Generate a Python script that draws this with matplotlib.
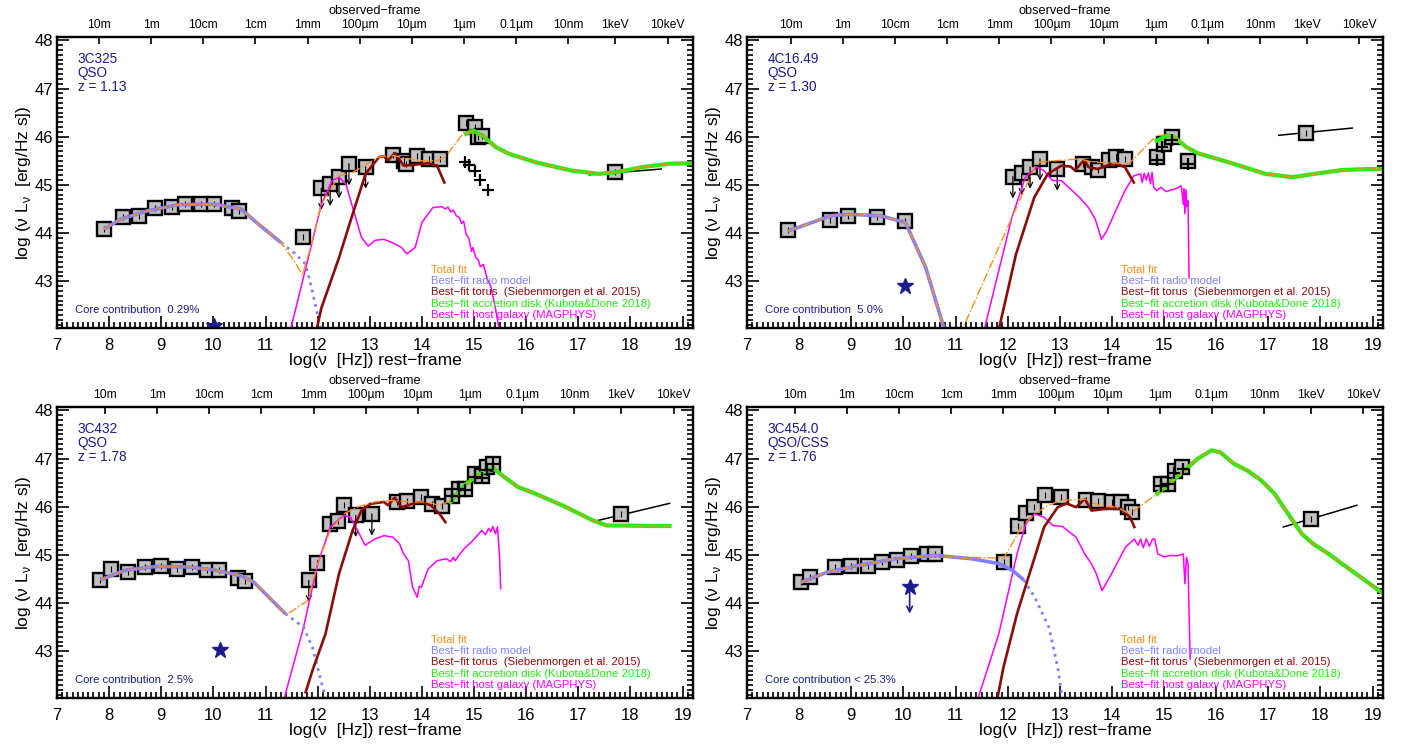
import numpy as np
import matplotlib.pyplot as plt
from matplotlib.ticker import MultipleLocator

plt.rcParams['font.family'] = ['Liberation Sans', 'DejaVu Sans']
plt.rcParams['mathtext.fontset'] = 'custom'
plt.rcParams['mathtext.rm'] = 'Liberation Sans'

C_LIGHT = 2.998e8      # m/s
KEV_HZ = 2.418e17      # Hz per keV

obs_labels = ['10m', '1m', '10cm', '1cm', '1mm', '100µm', '10µm', '1µm',
              '0.1µm', '10nm', '1keV', '10keV']
obs_lambda = [10, 1, 0.1, 0.01, 1e-3, 1e-4, 1e-5, 1e-6, 1e-7, 1e-8]
obs_kev = [1, 10]

legend_labels = ['Total fit', 'Best\u2212fit radio model',
                 'Best\u2212fit torus  (Siebenmorgen et al. 2015)',
                 'Best\u2212fit accretion disk (Kubota&Done 2018)',
                 'Best\u2212fit host galaxy (MAGPHYS)']
legend_y = [43.24, 43.01, 42.77, 42.53, 42.30]

C_TOTAL = '#ff8c1a'
C_RADIO = '#8080ff'
C_TORUS = '#8b0a0a'
C_DISK = '#22ee11'
C_HOST = '#ff00ff'
C_NAVY = '#1c1c8c'
legend_colors = [C_TOTAL, C_RADIO, C_TORUS, C_DISK, C_HOST]

# ---------------- 3C325 ----------------
a_info = ['3C325', 'QSO', 'z = 1.13']
a_z = 1.13
a_core = 'Core contribution  0.29%'
a_pts_x = [7.90, 8.26, 8.58, 8.88, 9.20, 9.46, 9.76, 10.01, 10.36, 10.50, 11.71,
           13.44, 13.65, 13.70, 13.91, 14.13, 14.34, 14.85, 15.01, 15.07, 15.16]
a_pts_y = [44.08, 44.34, 44.36, 44.52, 44.55, 44.60, 44.60, 44.60, 44.52, 44.46, 43.91,
           45.63, 45.50, 45.43, 45.60, 45.53, 45.53, 46.28, 46.20, 45.99, 46.01]
a_ul_x = [12.07, 12.24, 12.41, 12.60, 12.92]
a_ul_y = [44.93, 45.01, 45.17, 45.44, 45.37]
a_cross_x = [14.83, 14.91, 15.01, 15.12, 15.26]
a_cross_y = [45.48, 45.41, 45.29, 45.10, 44.89]
a_xray = [17.70, 45.26]
a_xline_x = [17.21, 18.59]
a_xline_y = [45.21, 45.33]
a_star = [10.01, 42.07]
a_radio_x = [7.90, 8.22, 8.73, 9.33, 10.01, 10.53, 10.87, 11.30]
a_radio_y = [44.08, 44.29, 44.46, 44.59, 44.60, 44.50, 44.18, 43.80]
a_rdot_x = [11.30, 11.55, 11.77, 11.90, 12.07]
a_rdot_y = [43.80, 43.59, 43.35, 42.79, 41.95]
a_bridge_x = [11.55, 11.71, 11.90, 12.07, 12.41, 12.67, 13.18, 13.44, 13.95, 14.29,
              14.47, 14.81]
a_bridge_y = [43.42, 43.13, 43.84, 44.60, 45.19, 45.26, 45.58, 45.61, 45.50, 45.50,
              45.61, 46.10]
a_torus_x = [11.97, 12.07, 12.41, 12.67, 12.92, 13.18, 13.27, 13.35, 13.48, 13.65,
             13.87, 14.12, 14.29, 14.43]
a_torus_y = [41.95, 42.44, 43.49, 44.39, 45.23, 45.58, 45.59, 45.51, 45.66, 45.40,
             45.42, 45.45, 45.40, 45.05]
a_disk_x = [14.85, 14.98, 15.19, 15.41, 15.66, 16.18, 16.86, 17.38, 17.72, 18.23,
            18.75, 19.20]
a_disk_y = [46.06, 46.13, 46.00, 45.79, 45.65, 45.47, 45.30, 45.23, 45.26, 45.37,
            45.44, 45.45]
a_host_x = [11.47, 11.90, 12.07, 12.28, 12.41, 12.54, 12.71, 12.84, 12.97, 13.10,
            13.27, 13.44, 13.61, 13.71, 13.87, 14.00, 14.21, 14.38, 14.45, 14.50,
            14.55, 14.60, 14.66, 14.72, 14.76, 14.80, 14.85, 14.90, 14.95, 14.98,
            15.03, 15.08, 15.12, 15.18, 15.25, 15.32, 15.41, 15.49]
a_host_y = [41.95, 43.84, 44.60, 45.09, 45.16, 45.02, 44.39, 43.91, 43.73, 43.85,
            43.87, 43.80, 43.70, 43.57, 43.70, 44.22, 44.53, 44.55, 44.50, 44.54,
            44.44, 44.48, 44.36, 44.32, 44.20, 44.25, 43.97, 43.90, 43.62, 43.70,
            43.50, 43.45, 43.30, 43.35, 43.05, 42.90, 42.44, 41.95]

# ---------------- 4C16.49 ----------------
b_info = ['4C16.49', 'QSO', 'z = 1.30']
b_z = 1.30
b_core = 'Core contribution  5.0%'
b_pts_x = [7.78, 8.59, 8.94, 9.50, 10.04, 13.45, 13.62, 13.73, 13.94, 14.07, 14.25,
           14.86, 14.99, 15.16, 15.45]
b_pts_y = [44.06, 44.28, 44.36, 44.34, 44.25, 45.44, 45.37, 45.31, 45.52, 45.58, 45.54,
           45.58, 45.84, 45.99, 45.49]
b_ul_x = [12.10, 12.27, 12.43, 12.62, 12.95]
b_ul_y = [45.17, 45.24, 45.37, 45.54, 45.33]
b_cross_x = [14.86, 14.96, 15.16, 15.45]
b_cross_y = [45.52, 45.79, 45.94, 45.44]
b_xray = [17.72, 46.08]
b_xline_x = [17.20, 18.61]
b_xline_y = [46.03, 46.18]
b_star = [10.04, 42.91]
b_radio_x = [7.78, 8.61, 8.95, 9.56, 10.04, 10.43, 10.80]
b_radio_y = [44.04, 44.36, 44.39, 44.36, 44.22, 43.28, 41.95]
b_rdot_x = []
b_rdot_y = []
b_bridge_x = [11.11, 12.08, 12.56, 13.38, 13.64, 14.33, 14.64, 14.86, 15.05]
b_bridge_y = [41.95, 44.32, 45.47, 45.54, 45.47, 45.44, 45.79, 46.03, 46.03]
b_torus_x = [11.82, 12.16, 12.51, 12.77, 13.03, 13.21, 13.29, 13.47, 13.55, 13.73,
             13.90, 14.07, 14.25, 14.42]
b_torus_y = [41.95, 43.56, 44.74, 45.23, 45.40, 45.38, 45.30, 45.52, 45.37, 45.33,
             45.40, 45.44, 45.37, 45.05]
b_disk_x = [14.86, 15.07, 15.20, 15.42, 15.64, 16.33, 16.94, 17.46, 17.89, 18.42,
            18.94, 19.20]
b_disk_y = [45.92, 46.03, 45.99, 45.79, 45.66, 45.44, 45.23, 45.16, 45.23, 45.31,
            45.33, 45.33]
b_host_x = [11.54, 12.08, 12.34, 12.56, 12.69, 12.86, 13.03, 13.38, 13.55, 13.68,
            13.80, 13.90, 14.07, 14.25, 14.42, 14.55, 14.58, 14.62, 14.66, 14.70,
            14.74, 14.77, 14.80, 14.86, 14.94, 15.04, 15.12, 15.25, 15.33, 15.37,
            15.38, 15.40, 15.42, 15.44, 15.46, 15.48]
b_host_y = [41.95, 44.32, 45.16, 45.37, 45.30, 45.09, 45.09, 44.74, 44.53, 44.29,
            43.87, 44.04, 44.46, 44.88, 45.19, 45.23, 45.05, 45.24, 45.10, 45.25,
            45.02, 45.26, 44.95, 44.88, 44.95, 44.86, 44.89, 44.93, 44.98, 44.60,
            44.92, 44.40, 44.90, 44.55, 44.67, 43.07]

# ---------------- 3C432 ----------------
c_info = ['3C432', 'QSO', 'z = 1.78']
c_z = 1.78
c_core = 'Core contribution  2.5%'
c_pts_x = [7.83, 8.03, 8.37, 8.69, 9.00, 9.31, 9.59, 9.87, 10.10, 10.48, 10.61,
           11.99, 12.24, 12.39, 12.51, 13.52, 13.71, 13.99, 14.19, 14.38,
           14.57, 14.72, 14.83, 15.02, 15.15, 15.25, 15.36]
c_pts_y = [44.48, 44.71, 44.64, 44.75, 44.76, 44.71, 44.75, 44.69, 44.68, 44.52, 44.45,
           44.83, 45.65, 45.71, 46.03, 46.10, 46.12, 46.20, 46.06, 46.02,
           46.23, 46.37, 46.37, 46.67, 46.63, 46.82, 46.88]
c_ul_x = [11.83, 12.73, 13.04]
c_ul_y = [44.47, 45.82, 45.85]
c_cross_x = [14.57, 14.72, 14.83, 15.02, 15.15, 15.25, 15.36]
c_cross_y = [46.23, 46.37, 46.35, 46.62, 46.60, 46.77, 46.88]
c_xray = [17.82, 45.84]
c_xline_x = [17.32, 18.75]
c_xline_y = [45.70, 46.07]
c_star = [10.13, 43.03]
c_radio_x = [7.83, 8.30, 8.90, 9.50, 10.01, 10.53, 10.78, 11.38]
c_radio_y = [44.48, 44.68, 44.76, 44.75, 44.69, 44.57, 44.43, 43.78]
c_rdot_x = [11.38, 11.73, 11.90, 12.03, 12.17]
c_rdot_y = [43.78, 43.50, 43.08, 42.53, 41.95]
c_bridge_x = [11.47, 11.81, 12.00, 12.24, 12.50, 12.75, 13.10, 13.44, 13.78, 14.12,
              14.34, 14.55]
c_bridge_y = [43.81, 44.05, 44.81, 45.51, 45.85, 45.99, 46.10, 46.13, 46.10, 46.10,
              46.02, 46.13]
c_torus_x = [11.77, 11.90, 12.15, 12.41, 12.67, 12.84, 13.01, 13.27, 13.35, 13.48,
             13.61, 13.82, 13.99, 14.17, 14.34, 14.45]
c_torus_y = [42.15, 42.60, 43.36, 44.61, 45.51, 45.92, 46.06, 46.10, 46.03, 46.19,
             45.99, 46.06, 46.10, 46.03, 45.85, 45.68]
c_disk_x = [14.55, 14.81, 15.11, 15.36, 15.54, 15.84, 16.18, 16.69, 17.03, 17.29,
            17.55, 17.89, 18.32, 18.75]
c_disk_y = [46.10, 46.44, 46.68, 46.81, 46.65, 46.41, 46.27, 46.03, 45.85, 45.71,
            45.61, 45.61, 45.60, 45.60]
c_host_x = [11.34, 11.73, 12.00, 12.24, 12.50, 12.63, 12.75, 12.91, 13.10, 13.27,
            13.44, 13.57, 13.65, 13.74, 13.82, 13.91, 13.95, 13.99, 14.12, 14.29,
            14.47, 14.55, 14.60, 14.64, 14.70, 14.81, 14.98, 15.15, 15.22, 15.28,
            15.32, 15.36, 15.41, 15.45, 15.49, 15.51]
c_host_y = [41.95, 43.50, 44.81, 45.58, 45.82, 45.78, 45.54, 45.20, 45.33, 45.40,
            45.37, 45.23, 45.02, 44.88, 44.33, 44.12, 44.35, 44.33, 44.71, 44.88,
            44.92, 44.86, 44.95, 44.88, 44.98, 45.13, 45.30, 45.51, 45.42, 45.55,
            45.48, 45.59, 45.44, 45.58, 44.95, 44.30]

# ---------------- 3C454.0 ----------------
d_info = ['3C454.0', 'QSO/CSS', 'z = 1.76']
d_z = 1.76
d_core = 'Core contribution < 25.3%'
d_pts_x = [8.03, 8.21, 8.69, 9.00, 9.32, 9.59, 9.88, 10.14, 10.46, 10.60, 11.93,
           12.20, 12.35, 12.51, 12.72, 13.02, 13.50, 13.74, 14.00, 14.17, 14.30, 14.39,
           14.95, 15.08, 15.21, 15.34]
d_pts_y = [44.43, 44.54, 44.75, 44.76, 44.78, 44.85, 44.90, 44.97, 45.01, 45.02, 44.86,
           45.61, 45.87, 45.99, 46.25, 46.21, 46.14, 46.11, 46.10, 46.10, 45.99, 45.89,
           46.48, 46.48, 46.75, 46.83]
d_ul_x = []
d_ul_y = []
d_cross_x = [14.95, 15.08, 15.20, 15.37]
d_cross_y = [46.44, 46.48, 46.69, 46.78]
d_xray = [17.82, 45.75]
d_xline_x = [17.29, 18.70]
d_xline_y = [45.58, 46.03]
d_star = [10.12, 44.33]
d_radio_x = [8.03, 8.54, 9.14, 9.84, 10.62, 11.31, 11.83, 12.09, 12.31]
d_radio_y = [44.43, 44.64, 44.78, 44.92, 44.99, 44.92, 44.82, 44.68, 44.48]
d_rdot_x = [12.31, 12.52, 12.79, 12.96, 13.06]
d_rdot_y = [44.48, 44.12, 43.50, 42.67, 41.95]
d_bridge_x = [11.31, 11.92, 12.05, 12.26, 12.52, 12.78, 13.04, 13.31, 13.48, 13.74,
              14.09, 14.35, 14.48, 14.78]
d_bridge_y = [44.95, 44.93, 45.16, 45.58, 45.85, 46.03, 46.14, 46.14, 46.16, 46.03,
              45.99, 45.85, 45.96, 46.20]
d_torus_x = [11.79, 11.92, 12.18, 12.44, 12.70, 12.96, 13.13, 13.31, 13.48, 13.61,
             13.91, 14.17, 14.35, 14.43]
d_torus_y = [41.95, 42.67, 43.78, 44.68, 45.58, 45.99, 46.07, 45.99, 46.16, 45.92,
             45.96, 45.96, 45.78, 45.58]
d_disk_x = [14.87, 15.13, 15.39, 15.65, 15.91, 16.08, 16.34, 16.60, 16.86, 17.12,
            17.38, 17.64, 17.86, 18.16, 18.42, 18.77, 19.20]
d_disk_y = [46.27, 46.51, 46.75, 47.00, 47.17, 47.13, 46.89, 46.75, 46.55, 46.27,
            45.85, 45.44, 45.23, 45.02, 44.81, 44.54, 44.20]
d_host_x = [11.41, 11.83, 12.18, 12.35, 12.52, 12.70, 12.87, 13.05, 13.31, 13.48,
            13.61, 13.70, 13.81, 13.96, 14.09, 14.26, 14.43, 14.50, 14.55, 14.60,
            14.66, 14.72, 14.78, 14.82, 14.88, 15.00, 15.13, 15.25, 15.37, 15.40,
            15.43, 15.46, 15.50]
d_host_y = [41.95, 43.36, 45.02, 45.65, 45.85, 45.78, 45.61, 45.59, 45.37, 45.02,
            44.81, 44.61, 44.26, 44.54, 44.81, 45.16, 45.33, 45.20, 45.33, 45.15,
            45.33, 45.18, 45.33, 45.33, 45.02, 44.96, 44.99, 44.98, 45.02, 44.40,
            44.95, 44.81, 42.84]

panels = [
    (a_info, a_z, a_core, a_pts_x, a_pts_y, a_ul_x, a_ul_y, a_cross_x, a_cross_y,
     a_xray, a_xline_x, a_xline_y, a_star, False, a_radio_x, a_radio_y, a_rdot_x, a_rdot_y,
     a_bridge_x, a_bridge_y, a_torus_x, a_torus_y, a_disk_x, a_disk_y, a_host_x, a_host_y),
    (b_info, b_z, b_core, b_pts_x, b_pts_y, b_ul_x, b_ul_y, b_cross_x, b_cross_y,
     b_xray, b_xline_x, b_xline_y, b_star, False, b_radio_x, b_radio_y, b_rdot_x, b_rdot_y,
     b_bridge_x, b_bridge_y, b_torus_x, b_torus_y, b_disk_x, b_disk_y, b_host_x, b_host_y),
    (c_info, c_z, c_core, c_pts_x, c_pts_y, c_ul_x, c_ul_y, c_cross_x, c_cross_y,
     c_xray, c_xline_x, c_xline_y, c_star, False, c_radio_x, c_radio_y, c_rdot_x, c_rdot_y,
     c_bridge_x, c_bridge_y, c_torus_x, c_torus_y, c_disk_x, c_disk_y, c_host_x, c_host_y),
    (d_info, d_z, d_core, d_pts_x, d_pts_y, d_ul_x, d_ul_y, d_cross_x, d_cross_y,
     d_xray, d_xline_x, d_xline_y, d_star, True, d_radio_x, d_radio_y, d_rdot_x, d_rdot_y,
     d_bridge_x, d_bridge_y, d_torus_x, d_torus_y, d_disk_x, d_disk_y, d_host_x, d_host_y),
]

W, H = 1411, 748
fig = plt.figure(figsize=(W / 100, H / 100), dpi=100)
boxes = [(57, 37), (747, 37), (57, 407), (747, 407)]
AX_W, AX_H = 636, 291

XLIM = (7, 19.2)
YLIM = (42.03, 48.07)


def draw_panel(ax, p):
    (info, z, core, px, py, ulx, uly, crx, cry, xray, xlx, xly, star, star_ul,
     rx, ry, rdx, rdy, brx, bry, tx, ty, dx, dy, hx, hy) = p

    # data points
    sq = dict(ms=10, mfc='#c0c0c0', mec='k', mew=1.7)
    ax.plot(px, py, 's', zorder=2, **sq)
    ax.plot(px, py, '|', ms=4, color='k', mew=0.8, zorder=2.1)
    ax.plot(ulx, uly, 's', zorder=2, **sq)
    for x, y in zip(ulx, uly):
        ax.annotate('', xy=(x, y - 0.45), xytext=(x, y),
                    arrowprops=dict(arrowstyle='->', color='k', lw=0.9,
                                    mutation_scale=9, shrinkA=0, shrinkB=0),
                    zorder=2.2)
    ax.plot(xlx, xly, '-', color='k', lw=1.1, zorder=2)
    ax.plot(xray[0], xray[1], 's', zorder=2.1, **sq)
    ax.plot(xray[0], xray[1], '|', ms=4, color='k', mew=0.8, zorder=2.2)

    # model components
    ax.plot(hx, hy, '-', color=C_HOST, lw=1.1, zorder=3)
    ax.plot(rx, ry, '-', color=C_RADIO, lw=2.6, zorder=3, solid_capstyle='butt')
    ax.plot(rdx, rdy, ':', color=C_RADIO, lw=2.0, zorder=3)
    ax.plot(tx, ty, '-', color=C_TORUS, lw=1.9, zorder=3.1)
    ax.plot(dx, dy, '-', color=C_DISK, lw=3.0, zorder=3.2)

    rx_a, ry_a = np.array(rx), np.array(ry)
    dx_a, dy_a = np.array(dx), np.array(dy)
    keep_r = rx_a <= brx[0]
    keep_d = dx_a >= brx[-1]
    tot_x = np.concatenate([rx_a[keep_r], brx, dx_a[keep_d]])
    tot_y = np.concatenate([ry_a[keep_r], bry, dy_a[keep_d]])
    ax.plot(tot_x, tot_y, '-.', color=C_TOTAL, lw=1.0, zorder=3.5)

    ax.plot(crx, cry, '+', color='k', ms=8, mew=1.6, zorder=4)

    # core contribution
    ax.plot(star[0], star[1], '*', color=C_NAVY, ms=12, zorder=4)
    if star_ul:
        ax.annotate('', xy=(star[0], star[1] - 0.55), xytext=(star[0], star[1]),
                    arrowprops=dict(arrowstyle='->', color=C_NAVY, lw=1.2,
                                    mutation_scale=10, shrinkA=0, shrinkB=0),
                    zorder=4)

    # labels
    for i, s in enumerate(info):
        ax.text(7.4, 47.61 - 0.29 * i, s, color=C_NAVY, fontsize=9.8,
                va='center', ha='left')
    ax.text(7.34, 42.4, core, color=C_NAVY, fontsize=8.1, va='center', ha='left')
    for s, c, y in zip(legend_labels, legend_colors, legend_y):
        ax.text(14.18, y, s, color=c, fontsize=8.1, va='center', ha='left')

    ax.set_xlim(*XLIM)
    ax.set_ylim(*YLIM)
    ax.xaxis.set_major_locator(MultipleLocator(1))
    ax.xaxis.set_minor_locator(MultipleLocator(0.1))
    ax.yaxis.set_minor_locator(MultipleLocator(0.1))
    ax.set_yticks([43, 44, 45, 46, 47, 48])
    ax.tick_params(which='both', direction='in', top=False, right=True,
                   width=1.2, labelsize=12)
    ax.tick_params(which='major', length=8.5)
    ax.tick_params(which='minor', length=4)
    ax.tick_params(axis='x', pad=7)
    ax.tick_params(axis='y', pad=3)
    for sp in ax.spines.values():
        sp.set_linewidth(1.6)
    ax.set_xlabel('log(\u03bd  [Hz]) rest\u2212frame', fontsize=12.5, labelpad=0)
    ax.set_ylabel('log (\u03bd L$_\\mathregular{\u03bd}$  [erg/Hz s])', fontsize=12.5,
                  labelpad=1)

    # observed-frame axis
    top = ax.twiny()
    top.set_xlim(*XLIM)
    nu_obs = [C_LIGHT / lam for lam in obs_lambda] + [e * KEV_HZ for e in obs_kev]
    top.set_xticks([np.log10(n * (1 + z)) for n in nu_obs])
    top.set_xticklabels(obs_labels)
    top.tick_params(which='major', direction='in', length=5, width=1.2,
                    labelsize=8.7, pad=4)
    top.tick_params(which='minor', top=False)
    top.set_xlabel('observed\u2212frame', fontsize=9.2, labelpad=4)
    for sp in top.spines.values():
        sp.set_linewidth(1.6)


for (l, t), p in zip(boxes, panels):
    ax = fig.add_axes([l / W, 1 - (t + AX_H) / H, AX_W / W, AX_H / H])
    draw_panel(ax, p)

fig.savefig('out.png', dpi=100)
